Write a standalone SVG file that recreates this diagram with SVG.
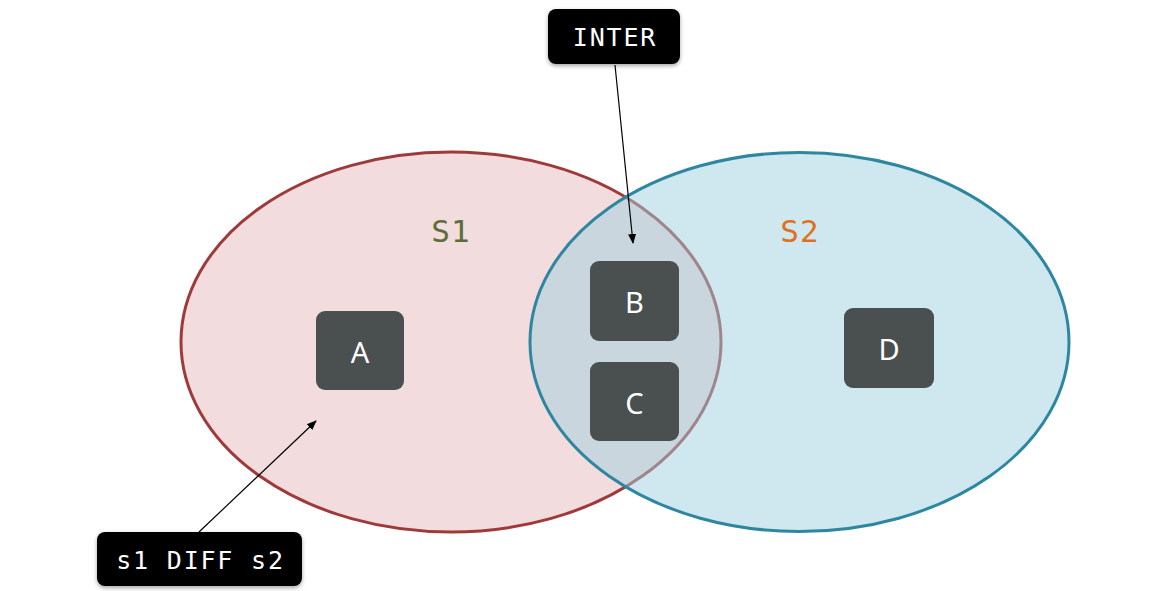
<svg xmlns="http://www.w3.org/2000/svg" width="1154" height="591" viewBox="0 0 1154 591">
<defs>
<marker id="arr" markerWidth="10" markerHeight="10" refX="9" refY="5" orient="auto" markerUnits="userSpaceOnUse"><path d="M0,1 L10,5 L0,9 Z" fill="#000"/></marker>
<filter id="sh" x="-20%" y="-20%" width="140%" height="160%"><feDropShadow dx="0" dy="2" stdDeviation="2" flood-color="#000" flood-opacity="0.35"/></filter>
<style>
.box{fill:#4a4f4f}
.bt{fill:#fff;font-family:"Noto Sans",sans-serif;font-size:29px;text-anchor:middle;dominant-baseline:central}
.call{fill:#000;filter:url(#sh)}
.ct{fill:#fff;font-family:"DejaVu Sans Mono",monospace;font-size:25px;letter-spacing:1.8px;text-anchor:middle;dominant-baseline:central}
.sl{font-family:"DejaVu Sans Mono",monospace;font-size:31px;letter-spacing:1px;text-anchor:middle;dominant-baseline:central}
.conn{stroke:#000;stroke-width:1.2;fill:none;marker-end:url(#arr)}
</style>
</defs>
<rect width="1154" height="591" fill="#fff"/>
<g id="s1">
<ellipse cx="451" cy="342" rx="270" ry="190" fill="#f2dcdd" stroke="#9e3a3a" stroke-width="3"/>
<text class="sl" x="451" y="231" fill="#5b6e38">S1</text>
</g>
<g id="s2">
<ellipse cx="799.5" cy="342" rx="269.5" ry="189.5" fill="rgba(159,207,221,0.5)" stroke="#2e87a0" stroke-width="3"/>
<text class="sl" x="800" y="231" fill="#e0701c">S2</text>
</g>
<g id="A"><rect class="box" x="316" y="311" width="88" height="79" rx="9"/><text class="bt" x="360" y="351">A</text></g>
<g id="B"><rect class="box" x="590" y="261" width="89" height="80" rx="9"/><text class="bt" x="634.5" y="301">B</text></g>
<g id="C"><rect class="box" x="590" y="362" width="89" height="79" rx="9"/><text class="bt" x="634.5" y="402">C</text></g>
<g id="D"><rect class="box" x="844" y="308" width="90" height="80" rx="9"/><text class="bt" x="889" y="348">D</text></g>
<g id="connectors">
<line class="conn" x1="615" y1="65" x2="633" y2="243"/>
<line class="conn" x1="199" y1="532" x2="316" y2="421"/>
</g>
<g id="inter"><rect class="call" x="548" y="9" width="132" height="55" rx="8"/><text class="ct" x="615" y="37">INTER</text></g>
<g id="diff"><rect class="call" x="97" y="532" width="205" height="54" rx="8"/><text class="ct" x="200.5" y="560">s1 DIFF s2</text></g>
</svg>
